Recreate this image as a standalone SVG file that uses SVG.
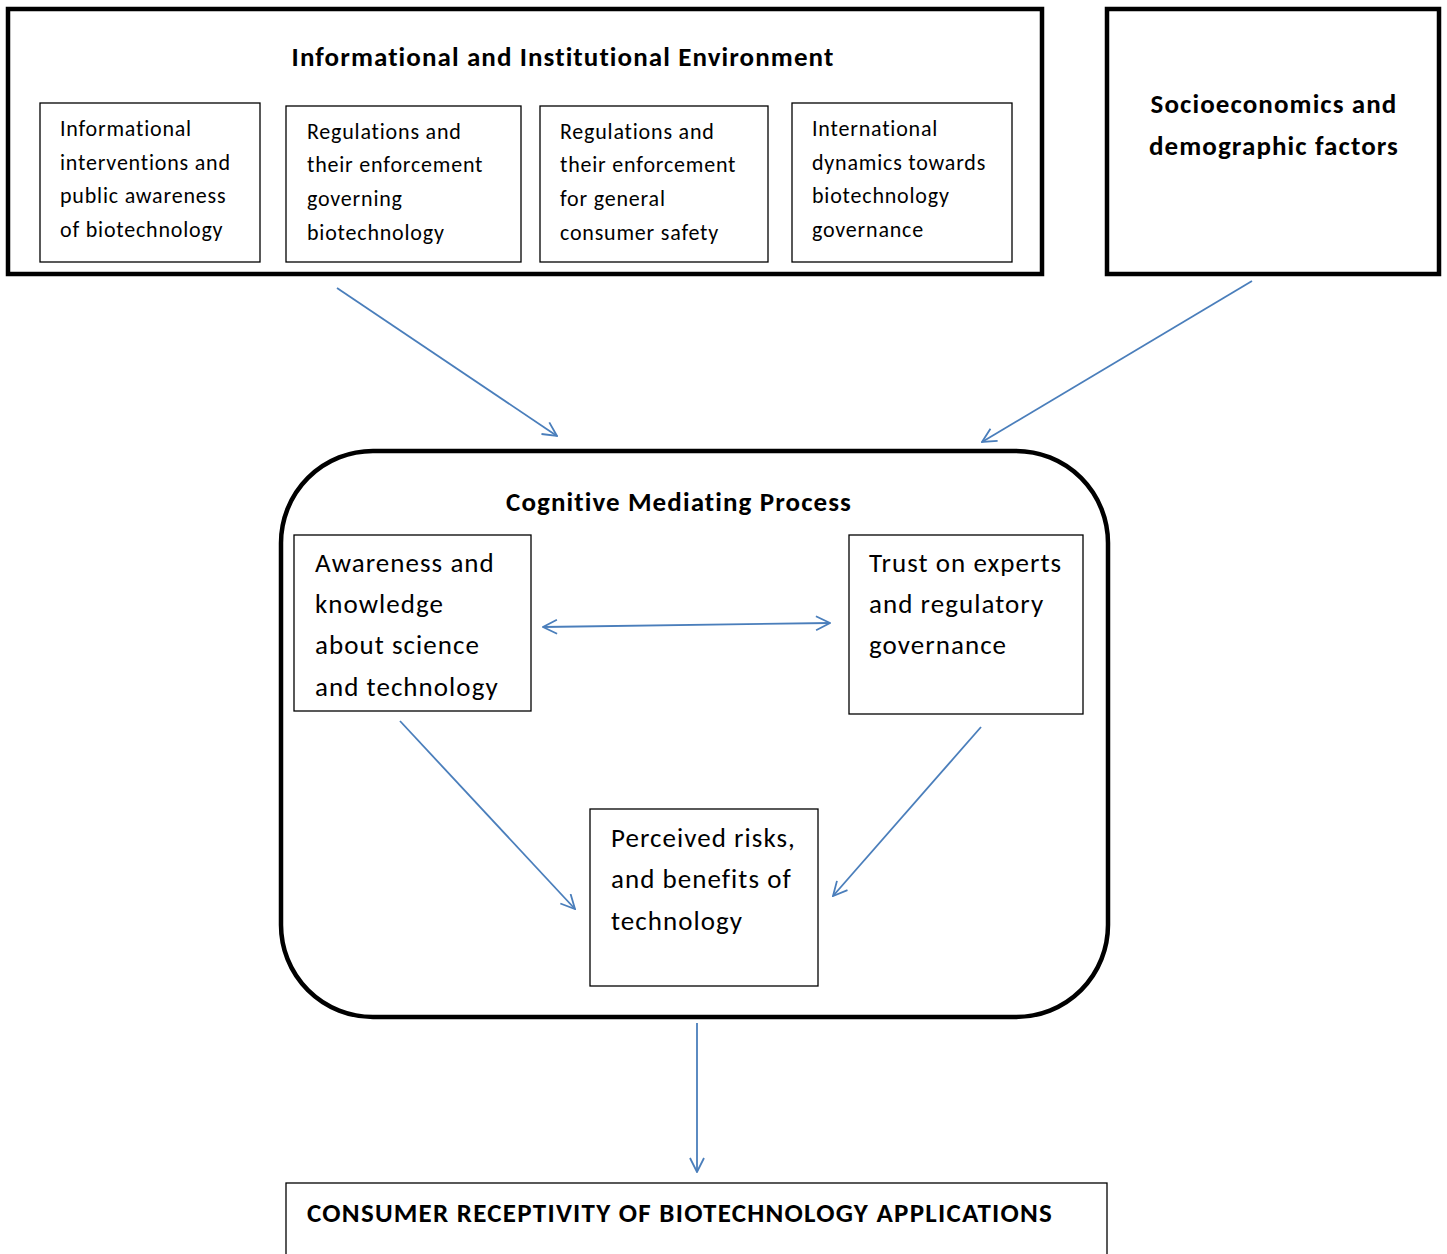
<svg xmlns="http://www.w3.org/2000/svg" width="1447" height="1254" viewBox="0 0 1447 1254">
<style>
.thick{fill:none;stroke:#000;stroke-width:4.5}
.thin{fill:#fff;stroke:#000;stroke-width:1.3}
.t{font-family:Carlito,Lato,"Open Sans",sans-serif;fill:#000}
.s{font-size:22px;letter-spacing:0.8px}
.m{font-size:27px;letter-spacing:1.05px}
.b{font-weight:bold;font-size:27px;letter-spacing:1.1px}
.conn{fill:none;stroke:#4A7EBB;stroke-width:1.8}
</style>
<defs>
<marker id="ah" viewBox="0 0 16 16" refX="15" refY="8" markerWidth="16" markerHeight="16" markerUnits="userSpaceOnUse" orient="auto-start-reverse">
<path d="M1,1 L15,8 L1,15" fill="none" stroke="#4A7EBB" stroke-width="1.8"/>
</marker>
</defs>
<rect width="1447" height="1254" fill="#fff"/>

<g id="env">
<rect class="thick" x="8" y="9" width="1034" height="265"/>
<text class="t b" x="563" y="66" text-anchor="middle">Informational and Institutional Environment</text>
</g>
<g id="info">
<rect class="thin" x="40" y="103" width="220" height="159"/>
<text class="t s"><tspan x="60" y="136">Informational</tspan><tspan x="60" y="170">interventions and</tspan><tspan x="60" y="203">public awareness</tspan><tspan x="60" y="237">of biotechnology</tspan></text>
</g>
<g id="reg1">
<rect class="thin" x="286" y="106" width="235" height="156"/>
<text class="t s"><tspan x="307" y="139">Regulations and</tspan><tspan x="307" y="172">their enforcement</tspan><tspan x="307" y="206">governing</tspan><tspan x="307" y="240">biotechnology</tspan></text>
</g>
<g id="reg2">
<rect class="thin" x="540" y="106" width="228" height="156"/>
<text class="t s"><tspan x="560" y="139">Regulations and</tspan><tspan x="560" y="172">their enforcement</tspan><tspan x="560" y="206">for general</tspan><tspan x="560" y="240">consumer safety</tspan></text>
</g>
<g id="intl">
<rect class="thin" x="792" y="103" width="220" height="159"/>
<text class="t s"><tspan x="812" y="136">International</tspan><tspan x="812" y="170">dynamics towards</tspan><tspan x="812" y="203">biotechnology</tspan><tspan x="812" y="237">governance</tspan></text>
</g>
<g id="socio">
<rect class="thick" x="1107" y="9" width="332" height="265"/>
<text class="t b" text-anchor="middle"><tspan x="1274" y="113">Socioeconomics and</tspan><tspan x="1274" y="155">demographic factors</tspan></text>
</g>
<g id="cog">
<rect class="thick" x="281" y="451" width="827" height="566" rx="92" ry="92"/>
<text class="t b" x="679" y="511" text-anchor="middle">Cognitive Mediating Process</text>
</g>
<g id="aware">
<rect class="thin" x="294" y="535" width="237" height="176"/>
<text class="t m"><tspan x="315" y="572">Awareness and</tspan><tspan x="315" y="613">knowledge</tspan><tspan x="315" y="654">about science</tspan><tspan x="315" y="696">and technology</tspan></text>
</g>
<g id="trust">
<rect class="thin" x="849" y="535" width="234" height="179"/>
<text class="t m"><tspan x="869" y="572">Trust on experts</tspan><tspan x="869" y="613">and regulatory</tspan><tspan x="869" y="654">governance</tspan></text>
</g>
<g id="perc">
<rect class="thin" x="590" y="809" width="228" height="177"/>
<text class="t m"><tspan x="611" y="847">Perceived risks,</tspan><tspan x="611" y="888">and benefits of</tspan><tspan x="611" y="930">technology</tspan></text>
</g>
<g id="recept">
<rect class="thin" x="286" y="1183" width="821" height="80"/>
<text class="t b" x="307" y="1222" style="letter-spacing:1.25px">CONSUMER RECEPTIVITY OF BIOTECHNOLOGY APPLICATIONS</text>
</g>

<g id="connectors">
<line class="conn" x1="337" y1="288" x2="557" y2="436" marker-end="url(#ah)"/>
<line class="conn" x1="1252" y1="281" x2="982" y2="442" marker-end="url(#ah)"/>
<line class="conn" x1="543" y1="627" x2="830" y2="623" marker-start="url(#ah)" marker-end="url(#ah)"/>
<line class="conn" x1="400" y1="721" x2="575" y2="909" marker-end="url(#ah)"/>
<line class="conn" x1="981" y1="727" x2="833" y2="896" marker-end="url(#ah)"/>
<line class="conn" x1="697" y1="1023" x2="697" y2="1172" marker-end="url(#ah)"/>
</g>
</svg>
